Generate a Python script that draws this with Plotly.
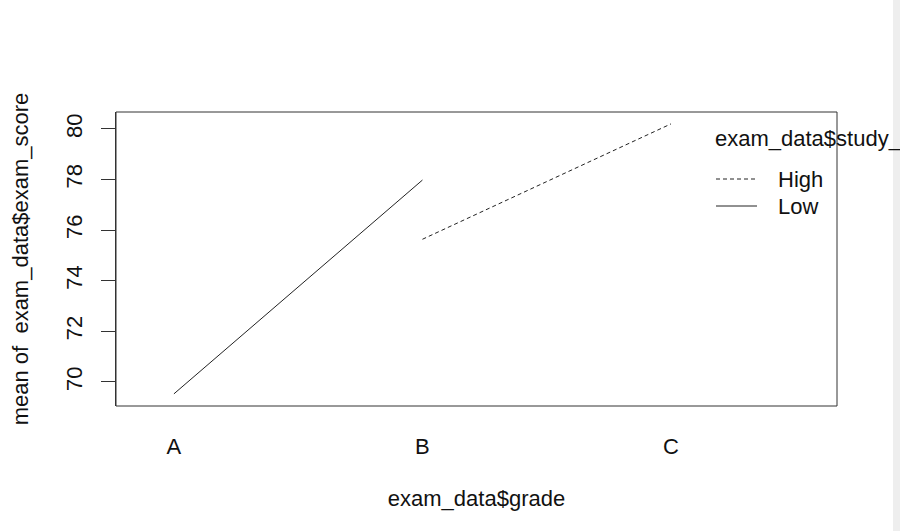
import plotly.graph_objects as go

grades = ["A", "B", "C"]
grade_pos = [1, 2, 3]
low_x = ["A", "B"]
low_scores = [69.53, 77.98]
high_x = ["B", "C"]
high_scores = [75.64, 80.2]
y_ticks = [70, 72, 74, 76, 78, 80]
legend_labels = ["High", "Low"]

pos = dict(zip(grades, grade_pos))
FONT = "Liberation Sans, Arial, sans-serif"
FS = 22

fig = go.Figure()
fig.add_trace(go.Scatter(x=[pos[g] for g in low_x], y=low_scores, mode="lines",
                         line=dict(color="#222", width=1), showlegend=False))
fig.add_trace(go.Scatter(x=[pos[g] for g in high_x], y=high_scores, mode="lines",
                         line=dict(color="#222", width=1, dash="4px,3px"), showlegend=False))

L, R, T, B = 116, 63, 112, 125
W, H = 900, 531
fig.update_layout(
    width=W, height=H,
    margin=dict(l=L, r=R, t=T, b=B),
    paper_bgcolor="white", plot_bgcolor="white",
    font=dict(family=FONT, size=FS, color="#111"),
    xaxis=dict(range=[0.767, 3.668], tickvals=grade_pos, ticktext=grades,
               showgrid=False, zeroline=False, showline=False, ticks="",
               tickfont=dict(size=FS), ticklabelstandoff=25,
               title=dict(text="exam_data$grade", standoff=32, font=dict(size=FS))),
    yaxis=dict(range=[69.05, 80.67], tickvals=y_ticks, showgrid=False, zeroline=False,
               showline=True, linecolor="#333", linewidth=1, ticks="outside",
               ticklen=14, tickcolor="#333", tickangle=-90, ticklabelstandoff=10,
               tickfont=dict(size=FS),
               title=dict(text="mean of  exam_data$exam_score", standoff=27, font=dict(size=FS))),
    showlegend=False,
)
fig.add_shape(type="rect", xref="paper", yref="paper", x0=0, x1=1, y0=0, y1=1,
              line=dict(color="#333", width=1))

# legend drawn manually (R style)
def px_x(x): return (x - L) / (W - L - R)
def px_y(y): return 1 - (y - T) / (H - T - B)

fig.add_annotation(xref="paper", yref="paper", x=px_x(713), y=px_y(138), text="exam_data$study_hours",
                   showarrow=False, xanchor="left", yanchor="middle", font=dict(size=FS))
for i, (lab, dash) in enumerate(zip(legend_labels, ["4px,3px", "solid"])):
    yy = 179 + 27 * i
    fig.add_shape(type="line", xref="paper", yref="paper", x0=px_x(716), x1=px_x(757),
                  y0=px_y(yy), y1=px_y(yy), line=dict(color="#222", width=1, dash=dash))
    fig.add_annotation(xref="paper", yref="paper", x=px_x(776), y=px_y(yy), text=lab,
                       showarrow=False, xanchor="left", yanchor="middle", font=dict(size=FS))

# page frame (screenshot border)
fig.add_shape(type="rect", xref="paper", yref="paper", x0=px_x(893), x1=px_x(900),
              y0=px_y(0), y1=px_y(531), fillcolor="#eeeeee", line=dict(width=0), layer="above")

fig.write_html("out.html")
